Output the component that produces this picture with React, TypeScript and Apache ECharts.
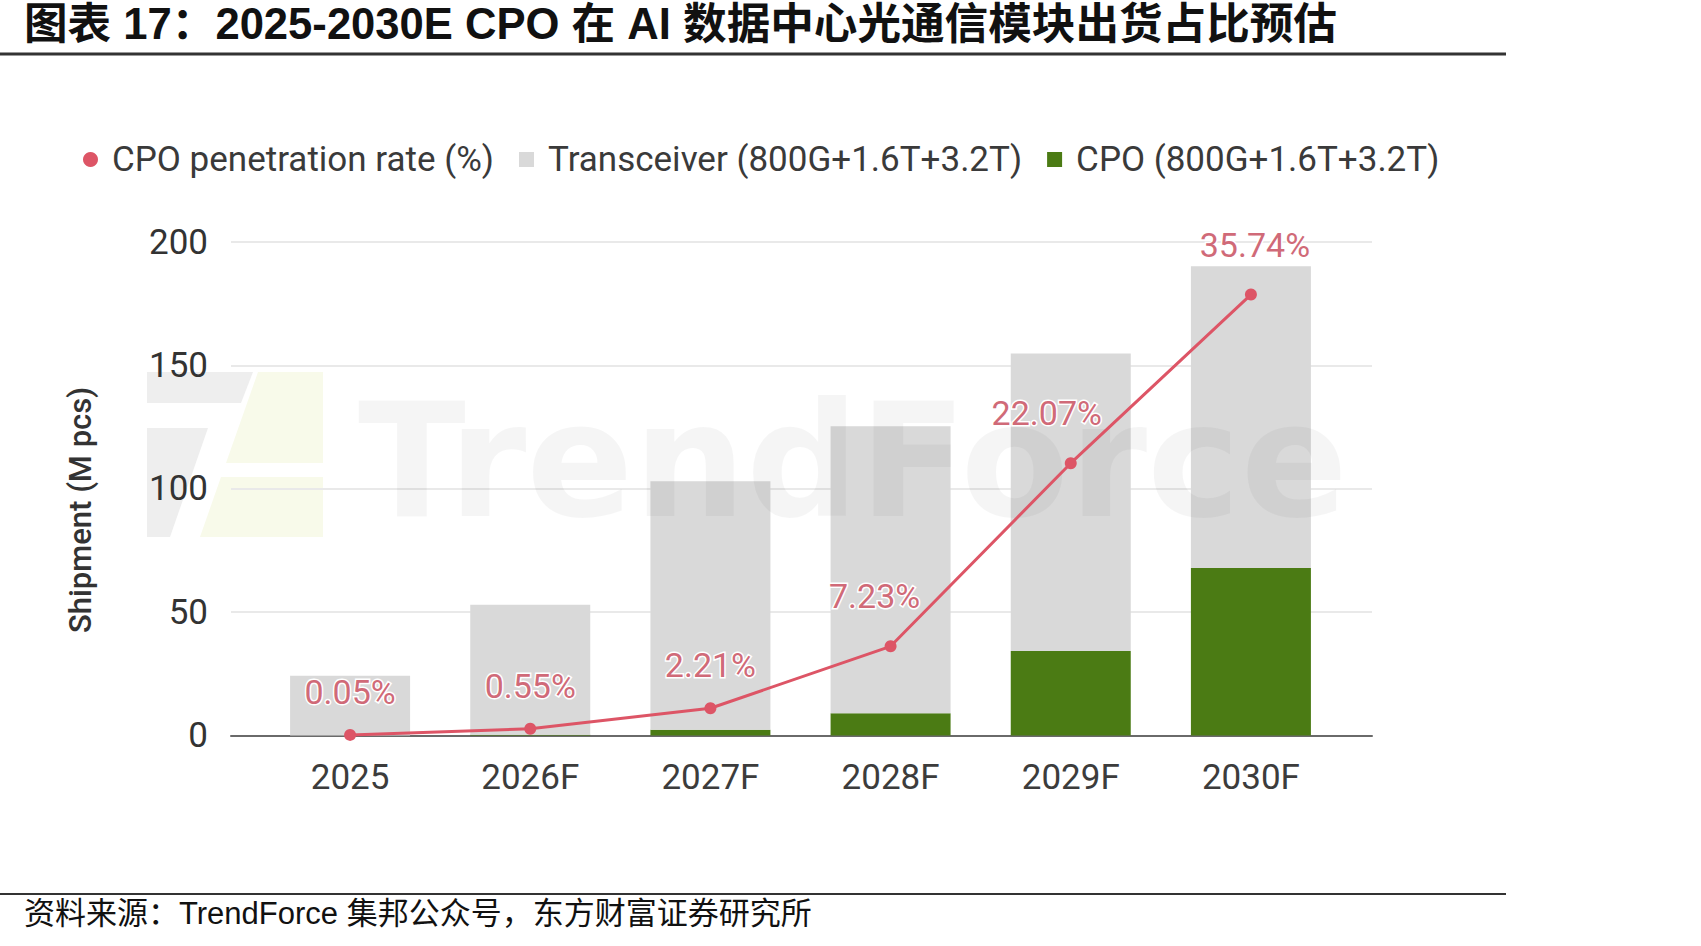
import React, { useEffect, useRef } from "react";
import * as echarts from "echarts";

// Years on the category axis
const categories = ["2025", "2026F", "2027F", "2028F", "2029F", "2030F"];
// Shipments, million pieces
const cpoShipment = [0.01, 0.29, 2.3, 9.0, 34.2, 67.9];
const transceiverShipment = [24.2, 52.7, 100.7, 116.3, 120.6, 122.3];
// CPO share of shipments, %
const penetrationRate = [0.05, 0.55, 2.21, 7.23, 22.07, 35.74];
// Shipment axis ticks
const shipmentTicks = [0, 50, 100, 150, 200];

const LEGEND_RATE = "CPO penetration rate (%)";
const LEGEND_TRX = "Transceiver (800G+1.6T+3.2T)";
const LEGEND_CPO = "CPO (800G+1.6T+3.2T)";

const TITLE = "图表 17：2025-2030E CPO 在 AI 数据中心光通信模块出货占比预估";
const SOURCE = "资料来源：TrendForce 集邦公众号，东方财富证券研究所";
const Y_NAME = "Shipment (M pcs)";

// Small nudges so the rate labels sit clear of the rising line
const rateLabelNudge = [
  [0, 0],
  [0, 0],
  [0, 0],
  [-16, -7],
  [-24, -7],
  [4, -7],
];

const SANS = "Roboto, 'Noto Sans', sans-serif";
const CN = "'Liberation Sans', Arial, 'Noto Sans CJK SC', sans-serif";

export default function App() {
  const ref = useRef<HTMLDivElement>(null);

  useEffect(() => {
    if (!ref.current) return;
    const chart = echarts.init(ref.current, undefined, { renderer: "svg" });

    const step = shipmentTicks[1] - shipmentTicks[0];
    const yMin = shipmentTicks[0];
    const yMax = shipmentTicks[shipmentTicks.length - 1];

    const option: any = {
      animation: false,
      backgroundColor: "#ffffff",
      legend: {
        left: 78,
        top: 137,
        itemWidth: 15,
        itemHeight: 15,
        itemGap: 25,
        textStyle: {
          fontFamily: SANS,
          fontSize: 35,
          color: "#3a3a3a",
          padding: [0, 0, 0, 9],
        },
        data: [
          { name: LEGEND_RATE, icon: "circle" },
          { name: LEGEND_TRX, icon: "rect" },
          { name: LEGEND_CPO, icon: "rect" },
        ],
      },
      grid: [
        // frame for the gridlines and the baseline
        { left: 231, right: 329, top: 242, bottom: 210.5 },
        // bars and line
        { left: 260, right: 360, top: 242, bottom: 210.5 },
      ],
      xAxis: [
        {
          gridIndex: 0,
          type: "value",
          min: 0,
          max: 1,
          axisLine: { show: true, lineStyle: { color: "#6a6a6a", width: 2 } },
          axisTick: { show: false },
          axisLabel: { show: false },
          splitLine: { show: false },
        },
        {
          gridIndex: 1,
          type: "category",
          data: categories,
          axisLine: { show: false },
          axisTick: { show: false },
          axisLabel: {
            margin: 24,
            fontFamily: SANS,
            fontSize: 35,
            color: "#3c3c3c",
          },
        },
      ],
      yAxis: [
        {
          gridIndex: 0,
          type: "value",
          min: yMin,
          max: yMax,
          interval: step,
          axisLine: { show: false },
          axisTick: { show: false },
          axisLabel: {
            margin: 23,
            fontFamily: SANS,
            fontSize: 35,
            color: "#333333",
          },
          splitLine: { lineStyle: { color: "#e9e9e9", width: 2 } },
        },
        {
          gridIndex: 1,
          type: "value",
          min: yMin,
          max: yMax,
          show: false,
        },
        {
          gridIndex: 1,
          type: "value",
          min: 0,
          max: 40,
          show: false,
        },
      ],
      series: [
        {
          name: LEGEND_CPO,
          type: "bar",
          xAxisIndex: 1,
          yAxisIndex: 1,
          stack: "shipment",
          barWidth: 120,
          z: 1,
          itemStyle: { color: "#4b7b14" },
          data: cpoShipment,
        },
        {
          name: LEGEND_TRX,
          type: "bar",
          xAxisIndex: 1,
          yAxisIndex: 1,
          stack: "shipment",
          barWidth: 120,
          z: 1,
          itemStyle: { color: "#d9d9d9" },
          data: transceiverShipment,
        },
        {
          name: LEGEND_RATE,
          type: "line",
          xAxisIndex: 1,
          yAxisIndex: 2,
          z: 5,
          symbol: "circle",
          symbolSize: 12,
          lineStyle: { color: "#dd5566", width: 3 },
          itemStyle: { color: "#dd5566" },
          label: {
            show: true,
            position: "top",
            distance: 20,
            fontFamily: SANS,
            fontSize: 34,
            color: "#d06a78",
            textBorderColor: "#ffffff",
            textBorderWidth: 3,
            formatter: (p: any) => `${Number(p.value).toFixed(2)}%`,
          },
          data: penetrationRate.map((v, i) => ({
            value: v,
            label: { offset: rateLabelNudge[i] },
          })),
        },
      ],
      graphic: [
        {
          type: "text",
          left: 24,
          top: 2,
          style: {
            text: TITLE,
            font: `bold 43.6px ${CN}`,
            fill: "#111111",
          },
        },
        {
          type: "line",
          shape: { x1: 0, y1: 54, x2: 1506, y2: 54 },
          style: { stroke: "#333333", lineWidth: 3 },
        },
        {
          type: "line",
          shape: { x1: 0, y1: 894, x2: 1506, y2: 894 },
          style: { stroke: "#333333", lineWidth: 2 },
        },
        {
          type: "text",
          left: 24,
          top: 898,
          style: {
            text: SOURCE,
            font: `31px ${CN}`,
            fill: "#111111",
          },
        },
        // vertical axis title
        {
          type: "text",
          x: 80,
          y: 510,
          rotation: Math.PI / 2,
          style: {
            text: Y_NAME,
            font: `500 31px ${SANS}`,
            fill: "#333333",
            align: "center",
            verticalAlign: "middle",
          },
        },
        // faint TrendForce watermark: logo mark
        {
          type: "polygon",
          z: -10,
          shape: { points: [[147, 372], [253, 372], [241, 403], [147, 403]] },
          style: { fill: "#eeeeee" },
        },
        {
          type: "polygon",
          z: -10,
          shape: { points: [[147, 428], [208, 428], [170, 537], [147, 537]] },
          style: { fill: "#eeeeee" },
        },
        {
          type: "polygon",
          z: -10,
          shape: { points: [[258, 372], [323, 372], [323, 463], [226, 463]] },
          style: { fill: "#f8faea" },
        },
        {
          type: "polygon",
          z: -10,
          shape: { points: [[221, 477], [323, 477], [323, 537], [200, 537]] },
          style: { fill: "#f8faea" },
        },
        // watermark word mark, laid over the bars
        {
          type: "text",
          z: 3,
          x: 358,
          y: 382,
          style: {
            text: "TrendForce",
            font: "bold 158px 'DejaVu Sans', sans-serif",
            fill: "rgba(0,0,0,0.04)",
          },
        },
      ],
    };

    chart.setOption(option);
    return () => chart.dispose();
  }, []);

  return (
    <div
      ref={ref}
      style={{ position: "absolute", left: 0, top: 0, width: 1701, height: 946 }}
    />
  );
}
